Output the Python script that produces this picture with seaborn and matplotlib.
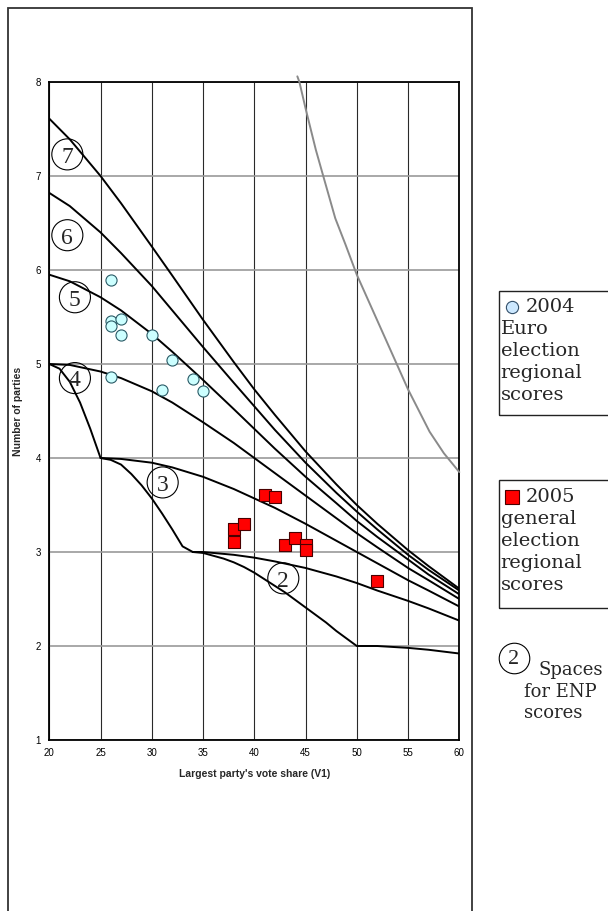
import matplotlib
matplotlib.use("Agg")
import matplotlib.pyplot as plt
import seaborn as sns
import pandas as pd
from matplotlib.patches import Rectangle
from matplotlib.lines import Line2D

# ---------------- data ----------------
v_grid = [20, 22, 25, 27, 30, 32, 35, 38, 40, 42, 45, 48, 50, 52, 55, 57, 60]
enp_top8 = [7.61, 7.39, 7.00, 6.71, 6.25, 5.94, 5.47, 5.02, 4.73, 4.46, 4.07, 3.72, 3.50, 3.30, 3.02, 2.85, 2.61]
enp_top7 = [6.82, 6.68, 6.40, 6.18, 5.83, 5.57, 5.18, 4.80, 4.55, 4.30, 3.95, 3.63, 3.43, 3.24, 2.97, 2.81, 2.59]
enp_top6 = [5.95, 5.88, 5.71, 5.57, 5.32, 5.13, 4.83, 4.52, 4.31, 4.10, 3.80, 3.52, 3.33, 3.16, 2.92, 2.76, 2.55]
enp_top5 = [5.00, 4.99, 4.92, 4.85, 4.71, 4.59, 4.38, 4.16, 4.00, 3.84, 3.60, 3.36, 3.20, 3.05, 2.83, 2.70, 2.50]

v_top4 = [25, 27, 30, 32, 35, 38, 40, 42, 45, 48, 50, 52, 55, 57, 60]
enp_top4 = [4.00, 3.99, 3.95, 3.90, 3.80, 3.67, 3.57, 3.47, 3.30, 3.12, 3.00, 2.88, 2.70, 2.59, 2.42]

v_top3 = [34, 35, 38, 40, 42, 45, 48, 50, 52, 55, 57, 60]
enp_top3 = [3.00, 3.00, 2.97, 2.94, 2.90, 2.83, 2.74, 2.67, 2.59, 2.48, 2.40, 2.27]

v_low = [20, 21, 22, 23, 24, 25, 26, 27, 28, 29, 30, 31, 32, 33, 34, 35, 36, 37, 38, 39, 40,
         41, 42, 43, 44, 45, 46, 47, 48, 49, 50, 52, 55, 57, 60]
enp_low = [5.00, 4.95, 4.81, 4.59, 4.31, 4.00, 3.98, 3.93, 3.83, 3.71, 3.57, 3.41, 3.24, 3.06, 3.00,
           2.99, 2.96, 2.93, 2.89, 2.84, 2.78, 2.71, 2.64, 2.57, 2.49, 2.41, 2.33, 2.25, 2.16, 2.08,
           2.00, 2.00, 1.98, 1.96, 1.92]

v_gray = [44.2, 44.4, 45, 46, 46.7, 47.9, 48.9, 50, 51.6, 53.2, 55, 57.1, 58.5, 60]
enp_gray = [8.06, 8.00, 7.72, 7.28, 7.01, 6.55, 6.27, 5.95, 5.56, 5.17, 4.73, 4.28, 4.05, 3.85]

euro_v1 = [26, 26, 26, 27, 27, 30, 32, 26, 31, 34, 35]
euro_enp = [5.89, 5.46, 5.40, 5.48, 5.31, 5.31, 5.04, 4.86, 4.72, 4.84, 4.71]

gen_v1 = [41, 42, 38, 38, 39, 43, 44, 45, 45, 52]
gen_enp = [3.61, 3.59, 3.24, 3.11, 3.30, 3.07, 3.15, 3.07, 3.02, 2.69]

space_labels = ["7", "6", "5", "4", "3", "2"]
space_x = [21.76, 21.76, 22.5, 22.5, 31.06, 42.83]
space_y = [7.23, 6.37, 5.71, 4.85, 3.74, 2.72]

x_ticks = [20, 25, 30, 35, 40, 45, 50, 55, 60]
y_ticks = [1, 2, 3, 4, 5, 6, 7, 8]

legend1_lines = ["2004", "Euro", "election", "regional", "scores"]
legend2_lines = ["2005", "general", "election", "regional", "scores"]
legend3_lines = ["Spaces", "for ENP", "scores"]

# ---------------- figure ----------------
sns.set_style("white")
plt.rcParams["font.family"] = ["Liberation Sans", "DejaVu Sans"]
SERIF = ["Liberation Serif", "DejaVu Serif"]
WIDE_SERIF = ["DejaVu Serif"]

W, H = 608, 911
fig = plt.figure(figsize=(W / 100, H / 100), dpi=100)

def fx(px):
    return px / W

def fy(py):
    return 1 - py / H

ax = fig.add_axes([fx(49.3), fy(740), fx(459.3) - fx(49.3), fy(82) - fy(740)])

frames = []
for name, xs, ys in [("top8", v_grid, enp_top8), ("top7", v_grid, enp_top7),
                     ("top6", v_grid, enp_top6), ("top5", v_grid, enp_top5),
                     ("top4", v_top4, enp_top4), ("top3", v_top3, enp_top3),
                     ("low", v_low, enp_low)]:
    frames.append(pd.DataFrame({"curve": name, "v1": xs, "enp": ys}))
curves = pd.concat(frames, ignore_index=True)

sns.lineplot(data=curves, x="v1", y="enp", units="curve", estimator=None,
             color="black", lw=1.4, sort=False, ax=ax, zorder=3)
sns.lineplot(x=v_gray, y=enp_gray, color="#8a8a8a", lw=1.4,
             sort=False, ax=ax, zorder=3)
ax.lines[-1].set_clip_on(False)

sns.scatterplot(x=euro_v1, y=euro_enp, marker="o", s=64, color="#ccffff",
                edgecolor="#2a5a66", linewidth=0.8, ax=ax, zorder=5)
sns.scatterplot(x=gen_v1, y=gen_enp, marker="s", s=84, color="#ff0000",
                edgecolor="#4a0000", linewidth=0.8, ax=ax, zorder=5)

# circled "space" labels
ax.scatter(space_x, space_y, s=500, facecolors="none", edgecolors="black",
           linewidths=0.8, zorder=4)
for t, x, y in zip(space_labels, space_x, space_y):
    ax.text(x, y - 0.03, t, ha="center", va="center", fontsize=17,
            family=SERIF, zorder=6)

ax.set_xlim(20, 60)
ax.set_ylim(1, 8)
ax.set_xticks(x_ticks)
ax.set_yticks(y_ticks)
ax.xaxis.grid(True, color="#2a2a2a", lw=0.8)
ax.yaxis.grid(True, color="#9a9a9a", lw=1.2)
ax.set_axisbelow(True)
for s in ax.spines.values():
    s.set_color("black")
    s.set_linewidth(1.3)
ax.tick_params(axis="both", direction="out", length=3, width=0.8,
               labelsize=7, colors="black", pad=3)
ax.set_xlabel("Largest party's vote share (V1)", fontsize=7.5,
              fontweight="bold", labelpad=8)
ax.set_ylabel("Number of parties", fontsize=7.5, fontweight="bold", labelpad=9)

# outer frame around the chart panel
fig.add_artist(Rectangle((fx(8), -0.1), fx(472) - fx(8), fy(7.5) + 0.1,
                         transform=fig.transFigure, fill=False,
                         ec="#333333", lw=1.3, clip_on=False))

LEG_FS = 14
SPACING = 22

# legend box 1
fig.add_artist(Rectangle((fx(498.5), fy(415)), 0.3, fy(290.5) - fy(415),
                         transform=fig.transFigure, fill=False,
                         ec="#222222", lw=1.0, clip_on=False))
fig.add_artist(Line2D([fx(512.3)], [fy(306.8)], marker="o", ms=8.8,
                      mfc="#cce8ff", mec="#33506a", mew=0.8,
                      transform=fig.transFigure))
for i, t in enumerate(legend1_lines):
    fig.text(fx(525.5 if i == 0 else 500.5), fy(312.5 + i * SPACING), t,
             fontsize=LEG_FS, family=WIDE_SERIF, va="baseline", ha="left")

# legend box 2
fig.add_artist(Rectangle((fx(498.5), fy(608)), 0.3, fy(480) - fy(608),
                         transform=fig.transFigure, fill=False,
                         ec="#222222", lw=1.0, clip_on=False))
fig.add_artist(Line2D([fx(511.5)], [fy(496.5)], marker="s", ms=9.8,
                      mfc="#ff0000", mec="#4a0000", mew=0.8,
                      transform=fig.transFigure))
for i, t in enumerate(legend2_lines):
    fig.text(fx(525.5 if i == 0 else 500.5), fy(502 + i * SPACING), t,
             fontsize=LEG_FS, family=WIDE_SERIF, va="baseline", ha="left")

# legend 3: circled 2 "Spaces for ENP scores"
fig.add_artist(Line2D([fx(513.5)], [fy(658)], marker="o", ms=22,
                      mfc="none", mec="black", mew=0.8,
                      transform=fig.transFigure))
fig.text(fx(513.5), fy(659), "2", fontsize=16, family=SERIF,
         ha="center", va="center")
leg3_x = [538, 524, 524]
for i, t in enumerate(legend3_lines):
    fig.text(fx(leg3_x[i]), fy(675 + i * 21.7), t, fontsize=13,
             family=WIDE_SERIF, va="baseline", ha="left")

fig.savefig("out.png", dpi=100)
